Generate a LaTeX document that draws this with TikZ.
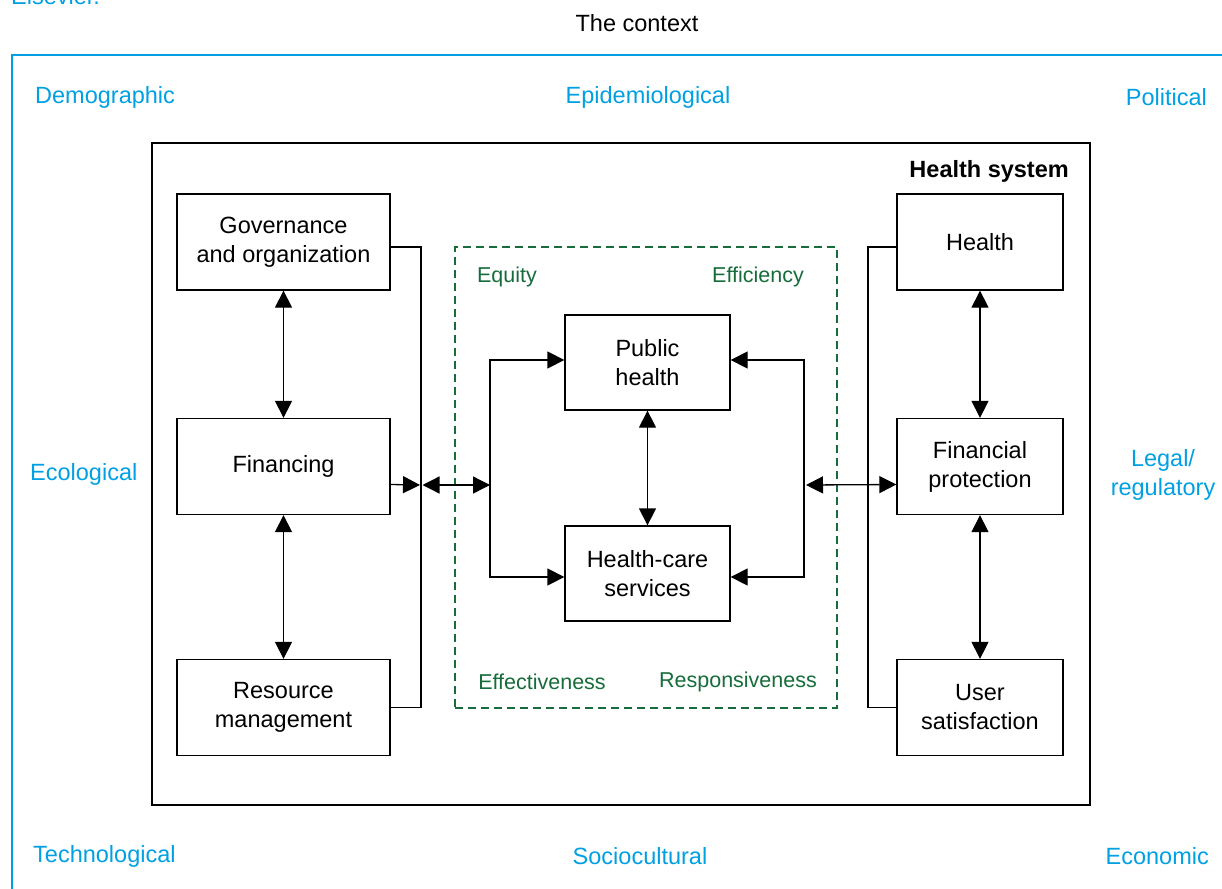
\documentclass[tikz,border=0pt]{standalone}
\usepackage{fontspec}
\setmainfont{Liberation Sans}
\usetikzlibrary{arrows.meta}
\definecolor{ctx}{RGB}{0,160,227}
\definecolor{grn}{RGB}{22,108,58}
\begin{document}
\begin{tikzpicture}[x=1pt,y=-1pt,
  font=\fontsize{23.5}{29}\selectfont,
  box/.style={draw, line width=1.3pt, align=center, inner sep=0pt, minimum height=96pt},
  lbox/.style={box, minimum width=213pt},
  rbox/.style={box, minimum width=166pt},
  cbox/.style={box, minimum width=165pt, minimum height=95pt},
  ctxlbl/.style={text=ctx, inner sep=0pt},
  glbl/.style={text=grn, inner sep=0pt, font=\fontsize{21.5}{26}\selectfont},
  ln/.style={line width=1.3pt},
  arr/.style={line width=1.3pt, -{Triangle[length=17pt,width=17pt]}},
  darr/.style={line width=1.3pt, {Triangle[length=17pt,width=17pt]}-{Triangle[length=17pt,width=17pt]}}]
\useasboundingbox (0,0) rectangle (1222,888);
% cropped caption fragment
\node[ctxlbl, anchor=base west] (els) at (11,5) {Elsevier.};
% context frame
\draw[ctx, line width=2.6pt] (12,900) -- (12,55) -- (1240,55);
\node[inner sep=0pt] (ctxt) at (637,23) {The context};
\node[ctxlbl, anchor=west] (demo) at (35,97) {Demographic};
\node[ctxlbl] (epi) at (648,97) {Epidemiological};
\node[ctxlbl, anchor=east] (pol) at (1207,97) {Political};
\node[ctxlbl, anchor=west] (eco) at (30,474) {Ecological};
\node[ctxlbl, align=center] (leg) at (1163,475) {Legal/\\regulatory};
\node[ctxlbl, anchor=west] (tec) at (33,856) {Technological};
\node[ctxlbl] (soc) at (640,856) {Sociocultural};
\node[ctxlbl, anchor=east] (econ) at (1209,856) {Economic};
% health system frame
\node[draw, line width=2.6pt, minimum width=938pt, minimum height=662pt, inner sep=0pt] (hs) at (621,474) {};
\node[anchor=east, inner sep=0pt, font=\fontsize{23.5}{29}\selectfont\bfseries] (hst) at (1069,171) {Health system};
% dashed goals frame
\node[draw=grn, line width=1.5pt, dash pattern=on 8pt off 5pt, minimum width=382pt, minimum height=461pt, inner sep=0pt] (goals) at (646,477.5) {};
\node[glbl] (equ) at (507,277) {Equity};
\node[glbl] (eff) at (758,277) {Efficiency};
\node[glbl] (efv) at (542,682) {Effectiveness};
\node[glbl] (rsp) at (738,682) {Responsiveness};
% left boxes
\node[lbox] (gov) at (283.5,242) {Governance\\and organization};
\node[lbox] (fin) at (283.5,466.5) {Financing};
\node[lbox] (res) at (283.5,707.5) {Resource\\management};
% center boxes
\node[cbox] (ph) at (647.5,362.5) {Public\\health};
\node[cbox] (hc) at (647.5,573.5) {Health-care\\services};
% right boxes
\node[rbox] (hl) at (980,242) {Health};
\node[rbox] (fp) at (980,466.5) {Financial\\protection};
\node[rbox] (us) at (980,707.5) {User\\satisfaction};
% helper coordinates
\coordinate (lbx) at (421,485);
\coordinate (clx) at (490,485);
\coordinate (crx) at (804,485);
\coordinate (rbx) at (868,485);
% vertical links
\draw[darr] (gov) -- (fin);
\draw[darr] (fin) -- (res);
\draw[darr] (ph) -- (hc);
\draw[darr] (hl) -- (fp);
\draw[darr] (fp) -- (us);
% left bracket
\draw[ln] ([yshift=-5pt]gov.east) -| (lbx) |- (res.east);
\draw[arr] ([yshift=-18pt]fin.east) -- ([xshift=-1pt]lbx);
\draw[darr] ([xshift=1.5pt]lbx) -- (clx);
% center brackets
\draw[arr] (clx) |- ([yshift=2.5pt]ph.west);
\draw[arr] (clx) |- ([yshift=-3.5pt]hc.west);
\draw[arr] (crx) |- ([yshift=2.5pt]ph.east);
\draw[arr] (crx) |- ([yshift=-3.5pt]hc.east);
\draw[darr] ([xshift=2pt]crx) -- ([yshift=-18pt]fp.west);
% right bracket
\draw[ln] ([yshift=-5pt]hl.west) -| (rbx) |- (us.west);
\end{tikzpicture}
\end{document}
